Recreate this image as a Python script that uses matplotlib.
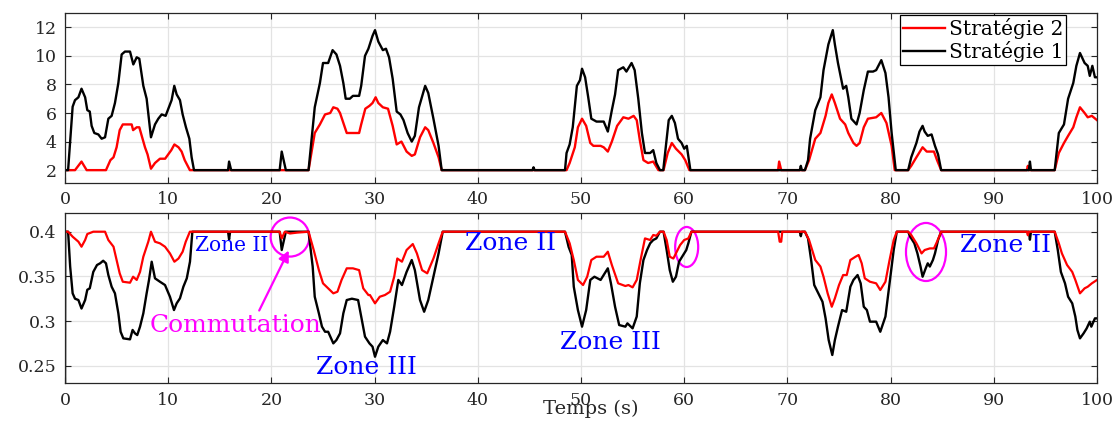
import matplotlib
matplotlib.use("Agg")
import matplotlib.pyplot as plt
from matplotlib.patches import Ellipse
from matplotlib.ticker import FormatStrFormatter

# ---------------- data (time s, value) ----------------
top_strat1 = [(0,2),(0.3,2),(0.74,6.44),(0.97,6.9),(1.3,7.1),(1.6,7.7),(1.95,7.1),(2.16,6.2),(2.4,6.1),(2.58,5.1),(2.84,4.6),(3.23,4.5),(3.55,4.2),(3.88,4.3),(4.2,5.6),(4.52,5.8),(4.84,6.7),(5.17,8.1),(5.49,10.1),(5.81,10.3),(6.3,10.3),(6.62,9.4),(6.95,9.9),(7.2,9.8),(7.59,7.9),(7.91,7.0),(8.33,4.3),(8.72,5.2),(9.04,5.6),(9.37,5.9),(9.75,5.8),(10.01,6.3),(10.33,6.9),(10.59,7.9),(10.82,7.3),(11.14,6.9),(11.4,5.9),(11.72,5.0),(12.05,4.2),(12.27,2.9),(12.5,2),(15.8,2),(15.9,2.6),(16.1,2),(20.8,2),(21.0,3.3),(21.4,2),(23.6,2),(24.2,6.4),(24.7,8.1),(25.0,9.5),(25.5,9.5),(25.93,10.4),(26.3,10.1),(26.65,9.3),(26.97,8.1),(27.2,7.0),(27.6,7.0),(27.9,7.2),(28.5,7.2),(28.7,7.9),(29.07,10.0),(29.4,10.5),(29.8,11.4),(30.04,11.8),(30.36,11.0),(30.8,10.4),(31.1,10.5),(31.4,9.9),(31.75,8.4),(32.14,6.1),(32.5,5.9),(32.8,5.5),(33.2,4.6),(33.6,4.0),(33.9,4.4),(34.3,6.4),(34.9,7.9),(35.2,7.4),(35.7,5.6),(36.2,3.7),(36.5,2),(45.3,2),(45.4,2.2),(45.5,2),(48.45,2),(48.6,3.2),(48.9,3.8),(49.2,5.0),(49.6,7.9),(49.9,8.3),(50.1,9.1),(50.4,8.5),(50.7,7.1),(51.0,5.6),(51.5,5.4),(52.2,5.4),(52.6,4.7),(52.99,6.2),(53.3,7.3),(53.6,9.0),(54.1,9.2),(54.4,8.9),(54.9,9.5),(55.2,9.0),(55.55,7.0),(55.9,4.6),(56.2,3.2),(56.7,3.2),(57.0,3.4),(57.3,2.5),(57.65,2),(57.97,2),(58.3,4.2),(58.5,5.5),(58.8,5.8),(59.1,5.3),(59.4,4.2),(59.75,3.9),(60.0,3.5),(60.25,3.7),(60.6,2),(71.2,2),(71.3,2.3),(71.4,2),(71.7,2),(72.0,2.7),(72.2,4.2),(72.7,6.2),(73.2,7.1),(73.5,9.0),(73.97,10.8),(74.4,11.8),(74.6,10.8),(74.9,9.5),(75.4,7.7),(75.7,7.9),(75.9,7.1),(76.2,5.6),(76.7,5.2),(77.0,6.0),(77.4,7.6),(77.8,8.9),(78.3,8.9),(78.6,9.0),(79.1,9.7),(79.5,8.8),(79.8,7.1),(80.1,4.6),(80.5,2),(81.7,2),(82.0,2.9),(82.5,3.9),(82.8,4.7),(83.1,5.1),(83.3,4.7),(83.6,4.4),(83.97,4.5),(84.3,3.7),(84.6,3.1),(84.9,2),(93.4,2),(93.5,2.6),(93.6,2),(95.9,2),(96.3,4.6),(96.8,5.2),(97.2,7.0),(97.7,8.1),(98.0,9.3),(98.35,10.2),(98.8,9.5),(99.1,9.3),(99.3,8.6),(99.55,9.3),(99.8,8.5),(100,8.5)]

top_strat2 = [(0,2),(0.97,2),(1.6,2.6),(2.1,2),(3.97,2),(4.4,2.7),(4.7,2.9),(5.0,3.6),(5.3,4.8),(5.6,5.2),(6.46,5.2),(6.6,4.8),(6.95,5.0),(7.2,5.0),(7.75,3.6),(8.0,3.1),(8.33,2.1),(8.72,2.5),(9.2,2.8),(9.7,2.8),(10.0,3.1),(10.3,3.4),(10.6,3.8),(11.0,3.6),(11.3,3.3),(11.6,2.7),(12.1,2),(23.6,2),(24.2,4.6),(24.7,5.2),(25.2,5.9),(25.7,6.0),(26.0,6.4),(26.4,6.3),(26.65,6.0),(26.97,5.3),(27.3,4.6),(27.8,4.6),(28.5,4.6),(28.7,5.2),(29.1,6.3),(29.5,6.5),(29.8,6.7),(30.1,7.1),(30.36,6.7),(30.8,6.4),(31.3,6.3),(31.75,5.1),(32.14,3.8),(32.6,4.0),(33.1,3.3),(33.6,3.0),(33.9,3.1),(34.4,4.3),(34.9,5.0),(35.2,4.8),(35.7,3.9),(36.2,2.9),(36.5,2),(48.6,2),(48.9,2.5),(49.4,3.6),(49.7,5.0),(50.1,5.6),(50.5,5.1),(50.9,3.9),(51.2,3.7),(51.9,3.7),(52.2,3.6),(52.6,3.3),(52.99,4.0),(53.5,5.1),(54.1,5.7),(54.6,5.6),(55.1,5.8),(55.4,5.5),(55.7,4.1),(56.05,2.7),(56.5,2.5),(57.0,2.6),(57.5,2),(58.0,2),(58.4,3.2),(58.8,3.9),(59.2,3.5),(59.75,3.1),(60.1,2.7),(60.5,2),(69.1,2),(69.2,2.6),(69.4,2),(71.7,2),(72.1,2.7),(72.7,4.2),(73.2,4.6),(73.7,5.8),(73.97,6.7),(74.3,7.3),(74.6,6.7),(75.1,5.6),(75.6,5.2),(75.9,4.6),(76.4,3.9),(76.7,3.7),(77.0,3.9),(77.4,5.0),(77.8,5.6),(78.6,5.7),(79.1,6.0),(79.6,5.3),(80.1,3.7),(80.4,2),(81.7,2),(82.0,2.3),(82.5,2.9),(83.1,3.6),(83.5,3.3),(83.8,3.3),(84.2,3.3),(84.5,2.7),(84.9,2),(93.2,2),(93.3,2.3),(93.4,2),(95.9,2),(96.3,3.2),(96.8,3.9),(97.2,4.4),(97.7,5.0),(98.0,5.7),(98.35,6.4),(98.8,6.0),(99.1,5.7),(99.5,5.8),(100,5.5)]

bot_strat1 = [(0,0.2),(0.02,0.4),(0.3,0.4),(0.5,0.361),(0.74,0.331),(0.97,0.325),(1.3,0.3235),(1.6,0.314),(1.95,0.3235),(2.16,0.335),(2.4,0.3366),(2.74,0.355),(3.1,0.3627),(3.4,0.3646),(3.7,0.3675),(3.97,0.3646),(4.2,0.3515),(4.52,0.3384),(4.84,0.331),(5.17,0.3086),(5.39,0.288),(5.65,0.2806),(6.3,0.2795),(6.55,0.29),(6.78,0.2862),(7.0,0.2843),(7.27,0.2937),(7.59,0.3086),(7.91,0.331),(8.14,0.346),(8.4,0.3664),(8.72,0.3478),(9.2,0.344),(9.69,0.3403),(10.17,0.3272),(10.56,0.3123),(10.82,0.3198),(11.14,0.3254),(11.47,0.3384),(11.8,0.3478),(12.11,0.3664),(12.34,0.4),(15.8,0.4),(15.9,0.3914),(16.0,0.4),(20.8,0.4),(21.0,0.3795),(21.4,0.4),(23.6,0.4),(24.0,0.361),(24.2,0.3272),(24.6,0.3086),(24.9,0.2937),(25.2,0.288),(25.5,0.288),(26.0,0.275),(26.3,0.2787),(26.65,0.2862),(26.97,0.3086),(27.3,0.3235),(27.8,0.325),(28.4,0.3235),(28.7,0.305),(29.07,0.2825),(29.5,0.275),(29.8,0.2713),(30.04,0.26),(30.36,0.2713),(30.8,0.2787),(31.2,0.275),(31.5,0.288),(31.9,0.316),(32.3,0.346),(32.65,0.3403),(33.1,0.355),(33.6,0.3683),(33.9,0.357),(34.4,0.3235),(34.8,0.3104),(35.2,0.3235),(35.7,0.3496),(36.2,0.3757),(36.6,0.4),(48.45,0.4),(48.8,0.383),(49.1,0.374),(49.3,0.3384),(49.7,0.3123),(50.1,0.2937),(50.5,0.3123),(50.9,0.346),(51.3,0.3496),(51.9,0.346),(52.2,0.3515),(52.6,0.359),(52.9,0.3422),(53.3,0.316),(53.7,0.2955),(54.3,0.2937),(54.5,0.2974),(55.0,0.2918),(55.4,0.305),(55.7,0.3422),(56.05,0.3683),(56.4,0.3795),(56.7,0.387),(57.0,0.3907),(57.3,0.3925),(57.65,0.4),(58.0,0.4),(58.3,0.3795),(58.6,0.357),(58.9,0.344),(59.2,0.3496),(59.5,0.3664),(59.8,0.372),(60.2,0.3795),(60.4,0.387),(60.7,0.4),(71.2,0.4),(71.3,0.395),(71.4,0.4),(71.7,0.4),(72.0,0.3925),(72.3,0.3683),(72.6,0.3403),(73.0,0.331),(73.4,0.3216),(73.7,0.303),(74.0,0.2787),(74.35,0.262),(74.6,0.2787),(74.9,0.2937),(75.3,0.3123),(75.7,0.3104),(76.1,0.3384),(76.4,0.346),(76.8,0.3515),(77.1,0.3422),(77.4,0.316),(77.7,0.3123),(78.0,0.2993),(78.6,0.2993),(79.0,0.288),(79.5,0.305),(79.9,0.3422),(80.3,0.3795),(80.6,0.4),(81.7,0.4),(81.9,0.3944),(82.3,0.387),(82.6,0.3757),(82.9,0.361),(83.1,0.3496),(83.4,0.359),(83.6,0.3646),(83.8,0.361),(84.1,0.3683),(84.3,0.3757),(84.6,0.3907),(84.9,0.4),(93.4,0.4),(93.5,0.391),(93.6,0.4),(95.9,0.4),(96.2,0.3795),(96.5,0.355),(96.9,0.3422),(97.2,0.3272),(97.6,0.3198),(97.9,0.305),(98.1,0.29),(98.35,0.2806),(98.7,0.2862),(99.0,0.2918),(99.3,0.2993),(99.45,0.2937),(99.8,0.303),(100,0.303)]

bot_strat2 = [(0,0.4),(0.3,0.4),(0.74,0.3944),(1.3,0.3888),(1.6,0.3832),(1.95,0.3907),(2.16,0.3974),(2.74,0.4),(3.88,0.4),(4.2,0.3907),(4.7,0.3832),(5.0,0.3683),(5.3,0.3534),(5.6,0.344),(6.3,0.3429),(6.6,0.3496),(6.95,0.346),(7.27,0.355),(7.59,0.372),(8.07,0.3888),(8.33,0.4),(8.72,0.3888),(9.2,0.387),(9.69,0.3832),(10.17,0.3757),(10.6,0.3664),(11.0,0.37),(11.4,0.3776),(11.7,0.3888),(12.1,0.4),(20.8,0.4),(21.0,0.3925),(21.3,0.4),(21.8,0.398),(22.5,0.399),(23.6,0.4),(24.1,0.3795),(24.6,0.357),(25.0,0.3422),(25.5,0.3366),(26.0,0.331),(26.4,0.3328),(26.8,0.346),(27.3,0.359),(27.9,0.359),(28.5,0.357),(28.9,0.3366),(29.4,0.3291),(29.55,0.3291),(30.04,0.3198),(30.5,0.3272),(31.0,0.3291),(31.5,0.3328),(31.9,0.3496),(32.2,0.37),(32.65,0.3664),(33.1,0.3795),(33.7,0.3862),(34.1,0.3757),(34.6,0.357),(35.1,0.3534),(35.7,0.37),(36.2,0.387),(36.6,0.4),(48.45,0.4),(48.9,0.387),(49.3,0.3683),(49.7,0.346),(50.2,0.3403),(50.6,0.3496),(51.0,0.3683),(51.5,0.372),(52.2,0.372),(52.6,0.3776),(52.99,0.3627),(53.6,0.3422),(54.3,0.3392),(54.6,0.3403),(55.0,0.3377),(55.4,0.346),(55.8,0.37),(56.2,0.3925),(56.7,0.3907),(57.0,0.3963),(57.3,0.3955),(57.65,0.4),(58.0,0.4),(58.3,0.3907),(58.6,0.372),(58.95,0.37),(59.2,0.3757),(59.6,0.385),(60.0,0.3907),(60.4,0.3925),(60.7,0.4),(69.1,0.4),(69.25,0.3888),(69.4,0.3888),(69.5,0.4),(71.7,0.4),(72.1,0.3907),(72.7,0.3683),(73.2,0.361),(73.5,0.3496),(73.9,0.331),(74.3,0.316),(74.6,0.3254),(75.0,0.3403),(75.4,0.3515),(75.75,0.3515),(76.1,0.3683),(76.6,0.372),(76.9,0.3739),(77.2,0.3646),(77.5,0.3478),(78.0,0.344),(78.6,0.3422),(79.0,0.3347),(79.5,0.344),(79.9,0.3683),(80.3,0.3907),(80.6,0.4),(81.7,0.4),(82.0,0.3963),(82.5,0.387),(83.0,0.3757),(83.3,0.3795),(83.8,0.3813),(84.2,0.3813),(84.5,0.3888),(84.9,0.4),(93.2,0.4),(93.3,0.396),(93.4,0.4),(95.9,0.4),(96.3,0.387),(96.6,0.3757),(97.1,0.3627),(97.6,0.355),(97.9,0.346),(98.35,0.331),(98.8,0.3366),(99.1,0.3384),(99.5,0.3422),(100,0.346)]

legend_labels = ["Stratégie 2", "Stratégie 1"]
x_ticks = [0, 10, 20, 30, 40, 50, 60, 70, 80, 90, 100]
top_yticks = [2, 4, 6, 8, 10, 12]
bot_yticks = [0.25, 0.3, 0.35, 0.4]
x_label = "Temps (s)"

# annotations: (text, t, y, fontsize)
zone_texts = [("Zone II", 12.6, 0.384, 14.5), ("Zone II", 38.8, 0.3868, 18),
              ("Zone III", 24.3, 0.2485, 18), ("Zone III", 48.0, 0.2765, 18),
              ("Zone II", 86.7, 0.384, 18)]
# ellipses: (center t, center y, width t, height y)
ellipses = [(21.8, 0.394, 3.75, 0.0437), (60.24, 0.3829, 2.23, 0.0448),
            (83.43, 0.3773, 3.88, 0.065)]

# ---------------- styling ----------------
plt.rcParams['font.family'] = ['DejaVu Serif']
axcol = '#262626'
red = '#ff0000'

fig = plt.figure(figsize=(11.17, 4.24), dpi=100)
ax1 = fig.add_axes([65/1117, 1-183/424, 1032/1117, 170/424])
ax2 = fig.add_axes([65/1117, 1-383.3/424, 1032/1117, 170/424])

def unzip(p):
    return [a for a, b in p], [b for a, b in p]

t, v = unzip(top_strat2)
l2, = ax1.plot(t, v, color=red, lw=1.7, label=legend_labels[0])
t, v = unzip(top_strat1)
l1, = ax1.plot(t, v, color='black', lw=1.7, label=legend_labels[1])

t, v = unzip(bot_strat1)
ax2.plot(t, v, color='black', lw=1.7)
t, v = unzip(bot_strat2)
ax2.plot(t, v, color=red, lw=1.6)

for ax in (ax1, ax2):
    ax.set_xlim(0, 100)
    ax.set_xticks(x_ticks)
    ax.grid(True, color='#e3e3e3', lw=0.9)
    ax.set_axisbelow(True)
    ax.tick_params(direction='in', length=4, width=0.8, colors=axcol,
                   labelsize=12.5, top=True, right=True, pad=6)
    for s in ax.spines.values():
        s.set_color(axcol)
        s.set_linewidth(0.9)

ax1.set_ylim(1.1, 13.0)
ax1.set_yticks(top_yticks)
ax2.set_ylim(0.2303, 0.4206)
ax2.set_yticks(bot_yticks)
ax2.yaxis.set_major_formatter(FormatStrFormatter('%g'))

leg = ax1.legend(handles=[l2, l1], loc='upper right', bbox_to_anchor=(0.970, 0.99),
                 borderaxespad=0, fancybox=False, edgecolor='black',
                 framealpha=1, fontsize=14.5, handlelength=2.1,
                 handletextpad=0.15, labelspacing=0.1, borderpad=0.15)
leg.get_frame().set_linewidth(0.9)

for txt, tx, ty, fs in zone_texts:
    ax2.text(tx, ty, txt, color='#0000ff', fontsize=fs, ha='left', va='center')

for cx, cy, w, h in ellipses:
    ax2.add_patch(Ellipse((cx, cy), w, h, fill=False, edgecolor='#ff00ff', lw=1.6))

ax2.annotate("", xy=(21.8, 0.3817), xytext=(18.7, 0.309),
             arrowprops=dict(arrowstyle='-|>', color='#ff00ff', lw=1.6,
                             mutation_scale=16))
ax2.text(8.24, 0.2955, "Commutation", color='#ff00ff', fontsize=18,
         ha='left', va='center')

fig.text(591/1117, 1-409/424, x_label, ha='center', va='center',
         fontsize=14, color=axcol)

fig.savefig('out.png', dpi=100)
